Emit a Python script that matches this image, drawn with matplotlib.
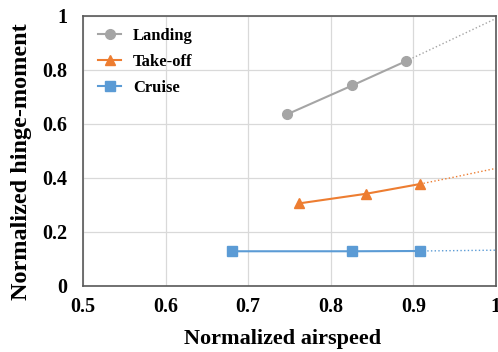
import matplotlib
matplotlib.use("Agg")
import matplotlib.pyplot as plt
from matplotlib.ticker import FuncFormatter

landing_x = [0.747, 0.826, 0.891]
landing_y = [0.635, 0.742, 0.832]
takeoff_x = [0.761, 0.843, 0.908]
takeoff_y = [0.305, 0.341, 0.377]
cruise_x = [0.680, 0.826, 0.908]
cruise_y = [0.128, 0.128, 0.129]

# dotted trend extensions
landing_ext_x = [0.891, 1.0]
landing_ext_y = [0.832, 0.99]
takeoff_ext_x = [0.908, 0.95, 1.0]
takeoff_ext_y = [0.377, 0.403, 0.435]
cruise_ext_x = [0.908, 1.0]
cruise_ext_y = [0.129, 0.132]

xticks = [0.5, 0.6, 0.7, 0.8, 0.9, 1.0]
yticks = [0, 0.2, 0.4, 0.6, 0.8, 1.0]

plt.rcParams['font.family'] = ['Liberation Serif', 'DejaVu Serif']
plt.rcParams['font.weight'] = 'bold'

fig = plt.figure(figsize=(4.98, 3.52), dpi=100)
ax = fig.add_axes([0.1667, 0.188, 0.829, 0.767])

c_land = '#A5A5A5'
c_take = '#ED7D31'
c_cru = '#5B9BD5'

ax.plot(landing_x, landing_y, color=c_land, marker='o', ms=7, lw=1.5, label='Landing')
ax.plot(takeoff_x, takeoff_y, color=c_take, marker='^', ms=7, lw=1.5, label='Take-off')
ax.plot(cruise_x, cruise_y, color=c_cru, marker='s', ms=7, lw=1.5, label='Cruise')
ax.plot(landing_ext_x, landing_ext_y, color=c_land, ls=':', lw=1.0)
ax.plot(takeoff_ext_x, takeoff_ext_y, color=c_take, ls=':', lw=1.0)
ax.plot(cruise_ext_x, cruise_ext_y, color=c_cru, ls=':', lw=1.0)

ax.set_xlim(0.5, 1.0)
ax.set_ylim(0, 1.0)
ax.set_xticks(xticks)
ax.set_yticks(yticks)
fmt = FuncFormatter(lambda v, p: ('%g' % round(v, 2)))
ax.xaxis.set_major_formatter(fmt)
ax.yaxis.set_major_formatter(fmt)
ax.tick_params(length=0, labelsize=14.5)
ax.tick_params(axis='x', pad=8)
ax.tick_params(axis='y', pad=11)
for lab in ax.get_xticklabels() + ax.get_yticklabels():
    lab.set_fontweight('bold')
ax.grid(True, color='#D9D9D9', lw=0.9)
ax.set_axisbelow(True)
for s in ax.spines.values():
    s.set_color('#595959')
    s.set_linewidth(1.2)

ax.set_xlabel('Normalized airspeed', fontsize=16, fontweight='bold', va='center')
ax.set_ylabel('Normalized hinge-moment', fontsize=17.5, fontweight='bold', va='center')
ax.xaxis.set_label_coords(0.484, -0.196)
ax.yaxis.set_label_coords(-0.148, 0.459)

leg = ax.legend(loc='upper left', frameon=False, fontsize=12, handlelength=1.4,
                handletextpad=0.7, labelspacing=0.6, borderaxespad=0.2,
                borderpad=0.5, bbox_to_anchor=(0.008, 1.0))
for t in leg.get_texts():
    t.set_fontweight('bold')

fig.savefig('out.png', dpi=100)
